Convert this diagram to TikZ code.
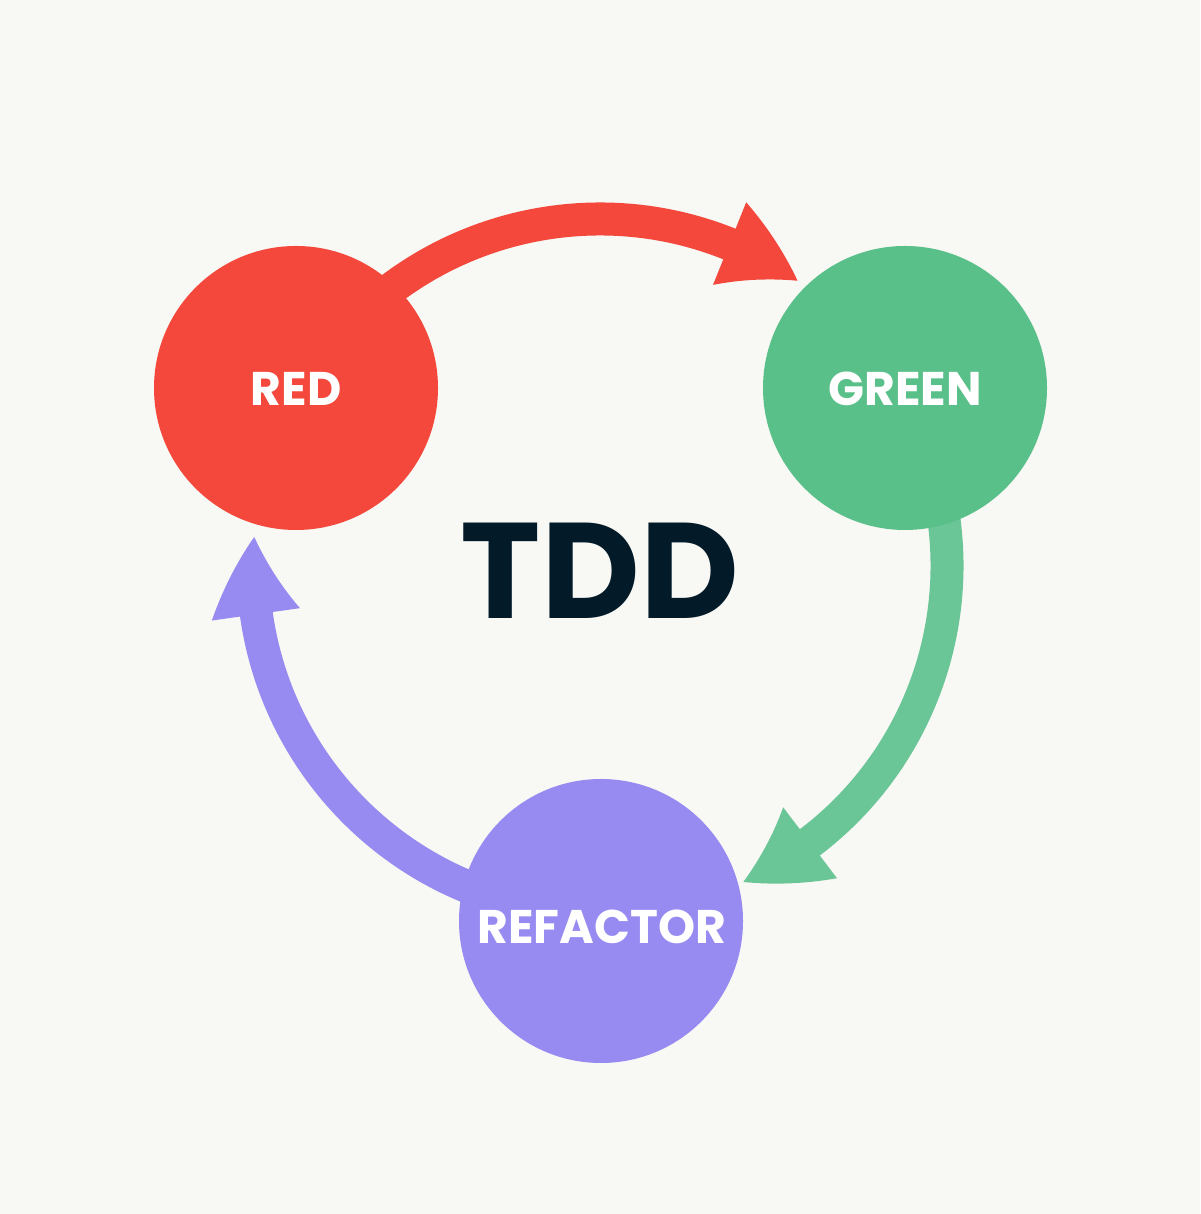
\documentclass[tikz,border=0pt]{standalone}
\usepackage{fontspec}
\setmainfont{Poppins}[BoldFont={* Bold}]
\newfontfamily\labelfont{Poppins Bold}
\definecolor{bgcol}{HTML}{F8F8F4}
\definecolor{redcol}{HTML}{F3483B}
\definecolor{greencol}{HTML}{5AC08A}
\definecolor{greenarrow}{HTML}{6BC697}
\definecolor{purplecol}{HTML}{978AF1}
\definecolor{navycol}{HTML}{031A29}
\tikzset{
  stage/.style={circle, minimum size=142pt, inner sep=0pt, fill=#1},
  stagetext/.style={text=white, font=\labelfont\fontsize{23.6}{24}\selectfont, anchor=base},
  shaft/.style={line width=16.5pt, draw=#1},
}
% head: #1 colour, #2 back angle
\newcommand{\cyclehead}[2]{%
  \fill[#1] (#2:392)
    -- plot[domain=0:1, samples=16, variable=\t] ({#2-12.8*\t}:{392-45*\t})
    -- plot[domain=0:1, samples=16, variable=\t] ({#2-12.8+12.8*\t}:{347-44*\t})
    -- cycle;}
\begin{document}
\begin{tikzpicture}[x=0.5pt,y=0.5pt]
\useasboundingbox (0,0) rectangle (1200,1214);
\fill[bgcol] (0,0) rectangle (1200,1214);
\coordinate (O) at (600,648);
% shafts
\begin{scope}[shift={(O)}]
  \draw[shaft=redcol] (140:347) arc[start angle=140, end angle=67, radius=347];
  \draw[shaft=greenarrow] (25:347) arc[start angle=25, end angle=-54, radius=347];
  \draw[shaft=purplecol] (265:347) arc[start angle=265, end angle=187, radius=347];
  \cyclehead{redcol}{68.1}
  \cyclehead{greenarrow}{-52.8}
  \cyclehead{purplecol}{188}
\end{scope}
% stages
\node[stage=redcol] (red) at (296,826) {};
\node[stage=greencol] (green) at (905,826) {};
\node[stage=purplecol] (refactor) at (601,293) {};
\node[stagetext] (redlabel) at (296,808) {RED};
\node[stagetext] (greenlabel) at (905,808) {GREEN};
\node[stagetext] (refactorlabel) at (602,270) {REFACTOR};
\node[text=navycol, font=\labelfont\fontsize{68}{70}\selectfont, anchor=base] (tdd) at (600,595) {TDD};
\end{tikzpicture}
\end{document}
